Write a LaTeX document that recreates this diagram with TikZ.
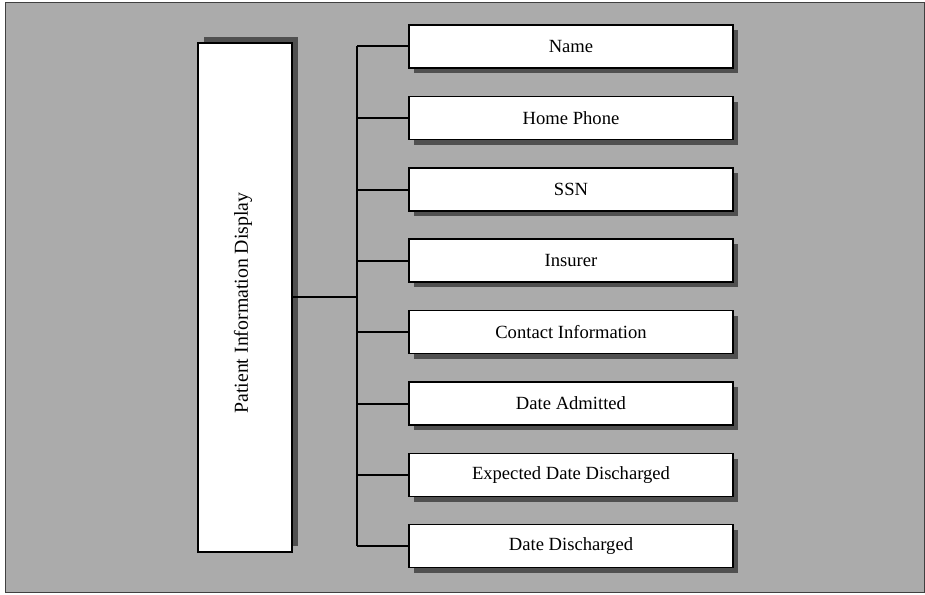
\documentclass[tikz,border=0pt]{standalone}
\usepackage{fontspec}
\setmainfont{Liberation Serif}
\usetikzlibrary{shadows}
\definecolor{bggray}{HTML}{ABABAB}
\definecolor{shgray}{HTML}{505050}
\definecolor{framegray}{HTML}{404040}
\begin{document}
\begin{tikzpicture}[x=1pt,y=-1pt,
  itembox/.style={draw=black, line width=1.2pt, fill=white, minimum width=324pt, minimum height=43pt, inner sep=0pt,
    font=\fontsize{18.6}{22}\selectfont,
    drop shadow={shadow xshift=5pt, shadow yshift=-5pt, fill=shgray, opacity=1}},
  mainbox/.style={draw=black, line width=1.2pt, fill=white, minimum width=94pt, minimum height=509pt, inner sep=0pt,
    drop shadow={shadow xshift=6pt, shadow yshift=6pt, fill=shgray, opacity=1}},
  conn/.style={draw=black, line width=2pt}
]
\useasboundingbox (0,0) rectangle (925,594);
\fill[white] (0,0) rectangle (925,594);
\draw[fill=bggray, draw=framegray, line width=1pt] (5,3) rectangle (924,592);

\node[mainbox] (L) at (245,297.5) {};
\node[rotate=90, font=\fontsize{19.8}{23}\selectfont] (Lt) at (243,303) {Patient Information Display};

\node[itembox] (b1) at (571,46.5) {Name};
\node[itembox] (b2) at (571,118) {Home Phone};
\node[itembox] (b3) at (571,189.5) {SSN};
\node[itembox] (b4) at (571,260.5) {Insurer};
\node[itembox] (b5) at (571,332) {Contact Information};
\node[itembox] (b6) at (571,403.5) {Date Admitted};
\node[itembox] (b7) at (571,475) {Expected Date Discharged};
\node[itembox] (b8) at (571,546) {Date Discharged};

\coordinate (jn) at (357,297);
\draw[conn] (L.east |- jn) -- (jn);
\draw[conn] (b1.west -| jn) -- (b8.west -| jn);
\foreach \i in {1,...,8} {
  \draw[conn] (b\i.west -| jn) -- (b\i.west);
}
\end{tikzpicture}
\end{document}
